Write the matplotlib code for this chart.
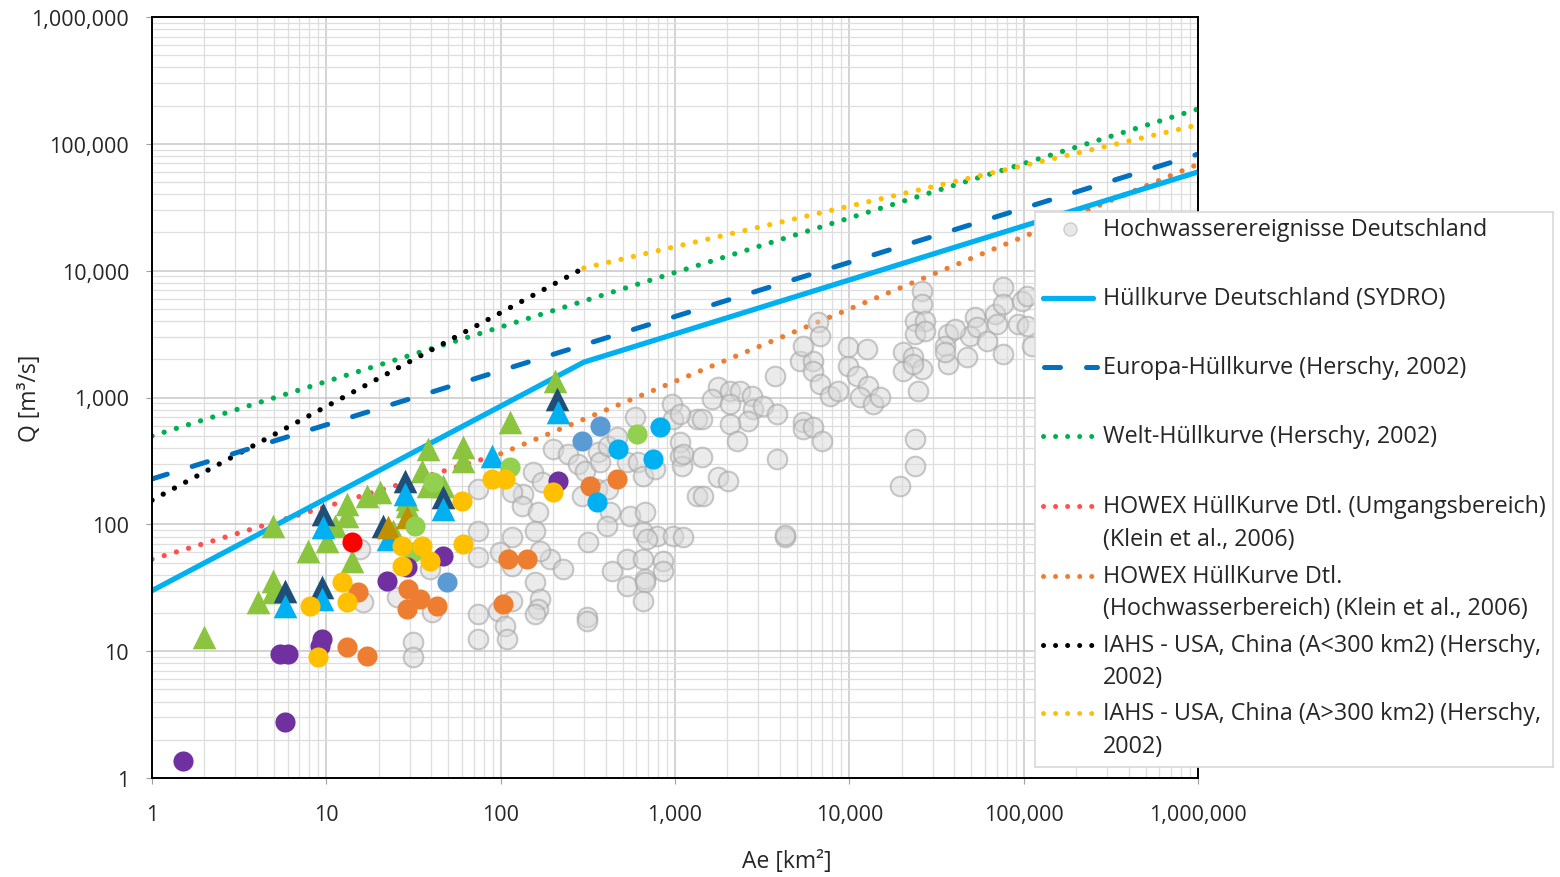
import numpy as np
import matplotlib
matplotlib.use('Agg')
import matplotlib.pyplot as plt
from matplotlib.ticker import FixedLocator, FuncFormatter, NullFormatter

plt.rcParams['font.family'] = ['Open Sans', 'DejaVu Sans']

# --- envelope curves (area in km2, discharge in m3/s) ---
sydro_area = [1, 300, 1e6]
sydro_q = [30, 1900, 60000]
europa_area = [1, 1e6]
europa_q = [228, 83000]
welt_area = [1, 1e6]
welt_q = [497, 188000]
howex_um_area = [1, 100]
howex_um_q = [53, 360]
howex_hw_area = [100, 1e6]
howex_hw_q = [360, 69000]
iahs_small_area = [1, 300]
iahs_small_q = [155, 10500]
iahs_large_area = [300, 1e6]
iahs_large_q = [10500, 141000]

# --- flood events Germany ---
grey_area = [15.6, 16.2, 25.4, 31.4, 31.4, 40.4, 39.3,
             200, 243, 278, 305, 362, 371, 413, 465, 590, 531, 614, 655, 768,
             961, 975, 1069, 1069, 1097, 1337, 153, 173, 134, 116, 133, 164, 74,
             293, 357, 413, 424, 407, 552, 673, 655, 789, 975, 1112, 690, 1337,
             74, 116, 157, 74, 99, 116, 192, 228, 168, 157, 317, 435, 531, 655,
             853, 853, 531, 673, 673, 655, 168, 164, 157, 116, 96.6, 74, 106, 109,
             74, 313, 313,
             1766, 1631, 2070, 2360, 2070, 2767, 2800, 3198, 3846, 2624, 2070,
             1429, 2270, 3750, 3846, 1429, 1766, 2015, 1449, 4276, 4276, 5420,
             5420, 6190, 6970, 5214, 6190, 6190, 6790, 7740, 8610, 9820, 11060,
             12790, 11510, 13670, 15000, 19530, 1069, 1112,
             6610, 6790, 5420, 9820, 12620,
             26120, 26120, 23810, 27180, 23810, 27180, 20320, 23190, 20320,
             26120, 23190, 24770, 23810, 23810, 36810, 35380, 36810, 35380,
             47320, 49200, 52600, 53950, 61660, 68550, 70310, 76210, 76210,
             76210, 92900, 97950, 104500, 104500, 111700, 40360]
grey_q = [64, 24.4, 26.7, 11.8, 9.0, 20.4, 44.5,
          393, 359, 299, 264, 372, 310, 415, 488, 702, 310, 310, 240, 273,
          889, 677, 446, 346, 288, 677, 259, 216, 173, 180, 140, 125, 190,
          167, 190, 190, 125, 97, 116, 125, 87, 81, 81, 79, 77, 167,
          89, 79, 89, 55, 60.5, 47, 53, 44.5, 62, 35.1, 73, 42.9, 53, 53,
          51, 42.9, 32.6, 37.1, 35.1, 24.9, 25.8, 21.5, 19.6, 24.9, 20.7, 19.6, 15.8, 12.5,
          12.5, 18.6, 17.3,
          1211, 973, 1126, 1126, 889, 1028, 811, 857, 741, 653, 618,
          677, 454, 1479, 327, 340, 236, 220, 167, 79, 82, 641,
          564, 585, 454, 1940, 1940, 1619, 1278, 1028, 1126, 1772, 1479,
          1233, 1009, 889, 1009, 201, 741, 359,
          3940, 3054, 2548, 2500, 2414,
          6918, 5458, 4010, 4010, 3170, 3345, 2285, 2085, 1619,
          1679, 1837, 1126, 471, 288, 3170, 2548, 1837, 2285,
          2085, 3054, 4315, 3597, 2790, 4560, 3800, 7430, 5458,
          2205, 3800, 5768, 6310, 3664, 2548, 3467]

# --- single catchments ---
green_tri_area = [2.0, 4.06, 4.94, 4.94, 4.94, 7.85, 10.1, 11.2, 13.1, 13.1, 14.0,
                  17.1, 20.3, 29.0, 29.0, 35.4, 38.3, 38.3, 46.7, 60.8, 60.8, 24.1,
                  113, 205]
green_tri_q = [12.9, 24.4, 35.8, 29.3, 97, 62, 74, 97, 145, 116, 51,
               167, 180, 158, 140, 264, 393, 201, 201, 407, 316, 89,
               641, 1349]
navy_tri_area = [5.79, 9.45, 9.57, 28.3, 46.7, 21.1, 210]
navy_tri_q = [29.8, 32.1, 121, 220, 164, 97, 973]
cyan_tri_area = [5.79, 9.45, 9.57, 28.3, 46.7, 22.6, 213, 89.1]
cyan_tri_q = [22.7, 25.8, 95, 173, 132, 77, 769, 346]
olive_tri_area = [22.6, 29.0]
olive_tri_q = [95, 114]

red_area = [14.0]
red_q = [73]
lime_area = [40.9, 32.3, 113, 606, 31.4]
lime_q = [216, 97, 283, 515, 60.5]
yellow_area = [8.06, 8.96, 12.3, 13.1, 27.2, 35.4, 27.2, 39.3, 60.0, 60.8, 89.1, 106, 200]
yellow_q = [22.7, 9.0, 35.1, 24.4, 67, 67, 47, 51, 153, 70, 228, 228, 180]
orange_area = [15.2, 13.1, 17.1, 29.4, 34.4, 29.0, 43.1, 110, 142, 103, 326, 465]
orange_q = [29.3, 10.8, 9.2, 30.9, 25.8, 21.5, 22.7, 53, 53, 23.6, 201, 228]
purple_area = [5.42, 6.03, 9.45, 9.2, 22.3, 46.7, 5.79, 1.51, 29.0, 213]
purple_q = [9.5, 9.5, 12.5, 11.0, 35.8, 56, 2.77, 1.36, 46, 220]
steel_area = [49.2, 293, 371]
steel_q = [35.1, 454, 596]
cyan_area = [471, 820, 748, 357]
cyan_q = [393, 585, 327, 150]

W, H = 1560, 878
fig = plt.figure(figsize=(W / 100, H / 100), dpi=100)
ax = fig.add_axes([152 / W, 1 - 779 / H, 1046 / W, 761 / H])
ax.set_xscale('log')
ax.set_yscale('log')
ax.set_xlim(1, 1e6)
ax.set_ylim(1, 1e6)

dot = (0, (0.01, 2.4))
ax.plot(howex_um_area, howex_um_q, color='#FF5050', lw=3.8, ls=dot, dash_capstyle='round', zorder=2)
ax.plot(howex_hw_area, howex_hw_q, color='#ED7D31', lw=3.8, ls=dot, dash_capstyle='round', zorder=2)
ax.plot(welt_area, welt_q, color='#00B050', lw=3.8, ls=dot, dash_capstyle='round', zorder=2)
ax.plot(iahs_small_area, iahs_small_q, color='black', lw=3.8, ls=dot, dash_capstyle='round', zorder=2)
ax.plot(iahs_large_area, iahs_large_q, color='#FFC000', lw=3.8, ls=dot, dash_capstyle='round', zorder=2)
ax.plot(europa_area, europa_q, color='#0070C0', lw=3.6, ls=(0, (3.2, 5.2)), dash_capstyle='round', zorder=2)
ax.plot(sydro_area, sydro_q, color='#00B0F0', lw=3.8, solid_capstyle='round', zorder=2)

ax.scatter(grey_area, grey_q, s=200, facecolor=(0.85, 0.85, 0.85, 0.5),
           edgecolor=(0.65, 0.65, 0.65, 0.6), lw=1.5, zorder=3)

tri = 290
circ = 210
ax.scatter(green_tri_area, green_tri_q, s=tri, marker='^', color='#8BC43F', lw=0, zorder=4)
ax.scatter(navy_tri_area, navy_tri_q, s=tri, marker='^', color='#1F4E79', lw=0, zorder=4)
ax.scatter(cyan_tri_area, cyan_tri_q, s=tri, marker='^', color='#00B0F0', lw=0, zorder=4)
ax.scatter(olive_tri_area, olive_tri_q, s=tri, marker='^', color='#BF9000', lw=0, zorder=4)
ax.scatter(lime_area, lime_q, s=circ, color='#92D050', lw=0, zorder=4)
ax.scatter(purple_area, purple_q, s=circ, color='#7030A0', lw=0, zorder=4)
ax.scatter(orange_area, orange_q, s=circ, color='#ED7D31', lw=0, zorder=4)
ax.scatter(yellow_area, yellow_q, s=circ, color='#FFC000', lw=0, zorder=4)
ax.scatter(steel_area, steel_q, s=circ, color='#5B9BD5', lw=0, zorder=4)
ax.scatter(cyan_area, cyan_q, s=circ, color='#00B0F0', lw=0, zorder=4)
ax.scatter(red_area, red_q, s=circ, color='#FF0000', lw=0, zorder=4)

decades = [10.0 ** k for k in range(7)]
minors = [m * d for d in decades[:-1] for m in range(2, 10)]
for axis in (ax.xaxis, ax.yaxis):
    axis.set_major_locator(FixedLocator(decades))
    axis.set_minor_locator(FixedLocator(minors))
    axis.set_major_formatter(FuncFormatter(lambda v, p: f'{v:,.0f}'))
    axis.set_minor_formatter(NullFormatter())
ax.grid(which='major', color='#C8C8C8', lw=1.1, zorder=0)
ax.grid(which='minor', color='#DEDEDE', lw=0.9, zorder=0)
ax.set_axisbelow(True)
ax.tick_params(which='major', length=4.5, color='#A0A0A0', labelsize=15.5, labelcolor='#262626')
ax.tick_params(axis='y', pad=12)
ax.tick_params(axis='x', pad=14)
ax.tick_params(which='minor', length=0)
for sp in ax.spines.values():
    sp.set_color('black')
    sp.set_linewidth(1.4)

fig.text(787 / W, 1 - 862 / H, 'Ae [km²]', ha='center', va='center', fontsize=16.5, color='#262626')
fig.text(30 / W, 1 - 398 / H, 'Q [m³/s]', ha='center', va='center', rotation=90, fontsize=16.5, color='#262626')

# legend panel, laid out in pixel units
lax = fig.add_axes([1035 / W, 1 - 768 / H, 518 / W, 555 / H])
lax.set_xlim(0, 518)
lax.set_ylim(555, 0)
lax.set_xticks([])
lax.set_yticks([])
lax.patch.set_facecolor('white')
for sp in lax.spines.values():
    sp.set_color('#D9D9D9')
    sp.set_linewidth(1.2)

hx = [8, 58]
lax.plot([35], [17], 'o', ms=9.5, mfc=(0.85, 0.85, 0.85, 0.6), mec=(0.7, 0.7, 0.7, 0.6), mew=1)
lax.plot(hx, [86, 86], color='#00B0F0', lw=3.8, solid_capstyle='round')
lax.plot([9, 62], [155, 155], color='#0070C0', lw=3.6, ls=(0, (3.2, 5.2)), dash_capstyle='round')
for y, c in [(224, '#00B050'), (294, '#FF5050'), (364, '#ED7D31'), (433, 'black'), (501, '#FFC000')]:
    lax.plot(hx, [y, y], color=c, lw=3.6, ls=dot, dash_capstyle='round')

entries = [
    (17, 'Hochwasserereignisse Deutschland'),
    (86, 'Hüllkurve Deutschland (SYDRO)'),
    (155, 'Europa-Hüllkurve (Herschy, 2002)'),
    (224, 'Welt-Hüllkurve (Herschy, 2002)'),
    (294, 'HOWEX HüllKurve Dtl. (Umgangsbereich)'),
    (327, '(Klein et al., 2006)'),
    (364, 'HOWEX HüllKurve Dtl.'),
    (396, '(Hochwasserbereich) (Klein et al., 2006)'),
    (433, 'IAHS - USA, China (A<300 km2) (Herschy,'),
    (465, '2002)'),
    (501, 'IAHS - USA, China (A>300 km2) (Herschy,'),
    (534, '2002)'),
]
for y, label in entries:
    lax.text(68, y, label, va='center', ha='left', fontsize=16.8, color='#262626')

fig.savefig('out.png', dpi=100)
